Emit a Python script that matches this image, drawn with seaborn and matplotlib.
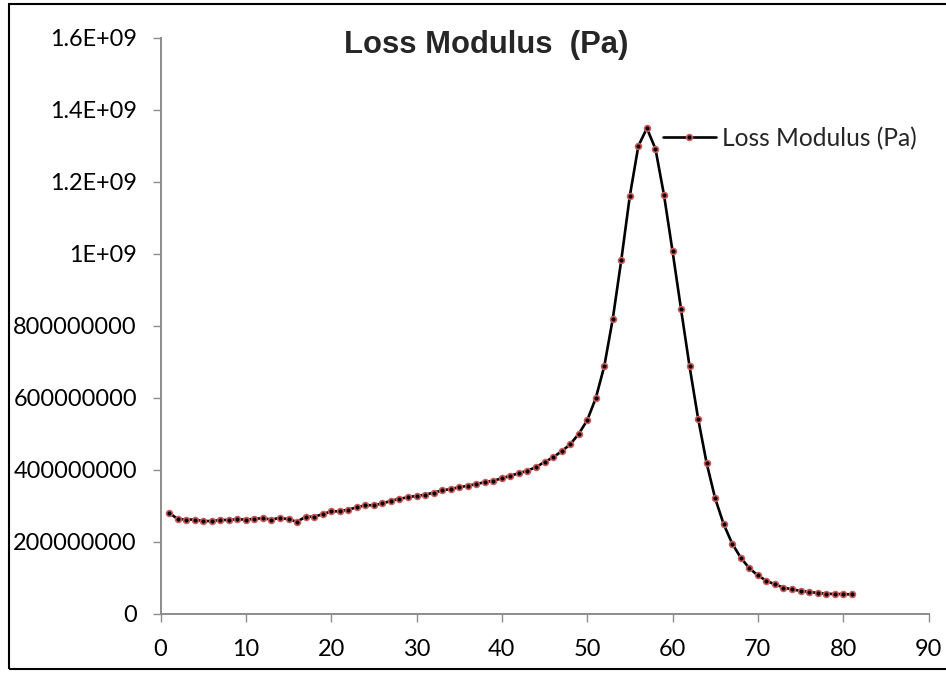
import matplotlib
matplotlib.use("Agg")
import matplotlib.pyplot as plt
from matplotlib.patches import Rectangle
from matplotlib.ticker import FixedLocator, FixedFormatter
import seaborn as sns
import pandas as pd

# Temperature step index and loss modulus readings (Pa)
step = list(range(1, 82))
loss_modulus = [
    280e6, 263e6, 261e6, 261e6, 257e6, 257e6, 260e6, 260e6, 262e6, 261e6,
    263e6, 265e6, 261e6, 266e6, 262e6, 255e6, 269e6, 269e6, 276e6, 284e6,
    284e6, 289e6, 295e6, 301e6, 301e6, 306e6, 313e6, 319e6, 323e6, 327e6,
    330e6, 336e6, 342e6, 346e6, 351e6, 355e6, 360e6, 365e6, 369e6, 376e6,
    383e6, 390e6, 397e6, 407e6, 421e6, 434e6, 451e6, 470e6, 499e6, 537e6,
    598e6, 687e6, 819e6, 983e6, 1161e6, 1300e6, 1349e6, 1292e6, 1164e6, 1008e6,
    846e6, 687e6, 542e6, 418e6, 320e6, 248e6, 194e6, 155e6, 126e6, 106e6,
    91e6, 81e6, 72e6, 67e6, 63e6, 60e6, 57e6, 55e6, 54e6, 54e6,
    53e6,
]
series_name = "Loss Modulus (Pa)"
title = "Loss Modulus  (Pa)"

x_ticks = [0, 10, 20, 30, 40, 50, 60, 70, 80, 90]
y_ticks = [0, 2e8, 4e8, 6e8, 8e8, 1e9, 1.2e9, 1.4e9, 1.6e9]
y_tick_labels = ["0", "200000000", "400000000", "600000000", "800000000",
                 "1E+09", "1.2E+09", "1.4E+09", "1.6E+09"]

sns.set_style("white")
plt.rcParams["font.family"] = ["Lato", "DejaVu Sans"]

df = pd.DataFrame({"step": step, "value": loss_modulus})

fig = plt.figure(figsize=(9.46, 6.73), dpi=100)
ax = fig.add_axes([160.5 / 946, 1 - 613.5 / 673, 768 / 946, 575.5 / 673])

sns.lineplot(
    data=df, x="step", y="value", ax=ax, color="black", linewidth=1.9,
    marker="o", markersize=4.2, markerfacecolor="black",
    markeredgecolor="#CD5C5C", markeredgewidth=1.2, label=series_name,
)

ax.set_xlim(0, 90)
ax.set_ylim(0, 1.6e9)
ax.xaxis.set_major_locator(FixedLocator(x_ticks))
ax.set_xticklabels([str(v) for v in x_ticks])
ax.yaxis.set_major_locator(FixedLocator(y_ticks))
ax.yaxis.set_major_formatter(FixedFormatter(y_tick_labels))
ax.set_xlabel("")
ax.set_ylabel("")

axis_gray = "#8C8C8C"
for side in ("top", "right"):
    ax.spines[side].set_visible(False)
for side in ("left", "bottom"):
    ax.spines[side].set_color(axis_gray)
    ax.spines[side].set_linewidth(1.4)
ax.tick_params(axis="both", which="major", direction="out", length=6,
               width=1.0, color=axis_gray, labelsize=16.9, labelcolor="black")
ax.tick_params(axis="x", pad=12, bottom=True)
ax.tick_params(axis="y", pad=11, left=True)

ax.legend(loc="center left", bbox_to_anchor=((663 - 160.5) / 768, (613.5 - 138.3) / 575.5),
          frameon=False, fontsize=17.7, handlelength=2.15, handletextpad=0.26,
          borderpad=0, borderaxespad=0)

fig.text(486.5 / 946, 1 - 53 / 673, title, ha="center", va="baseline",
         fontsize=22.3, fontweight="bold", family=["Liberation Sans", "DejaVu Sans"])

# Chart-area border
fig.patches.append(Rectangle((9 / 946, 1 - 669 / 673), 960 / 946, 665 / 673,
                             transform=fig.transFigure, fill=False,
                             edgecolor="black", linewidth=1.5))

fig.savefig("out.png", dpi=100)
